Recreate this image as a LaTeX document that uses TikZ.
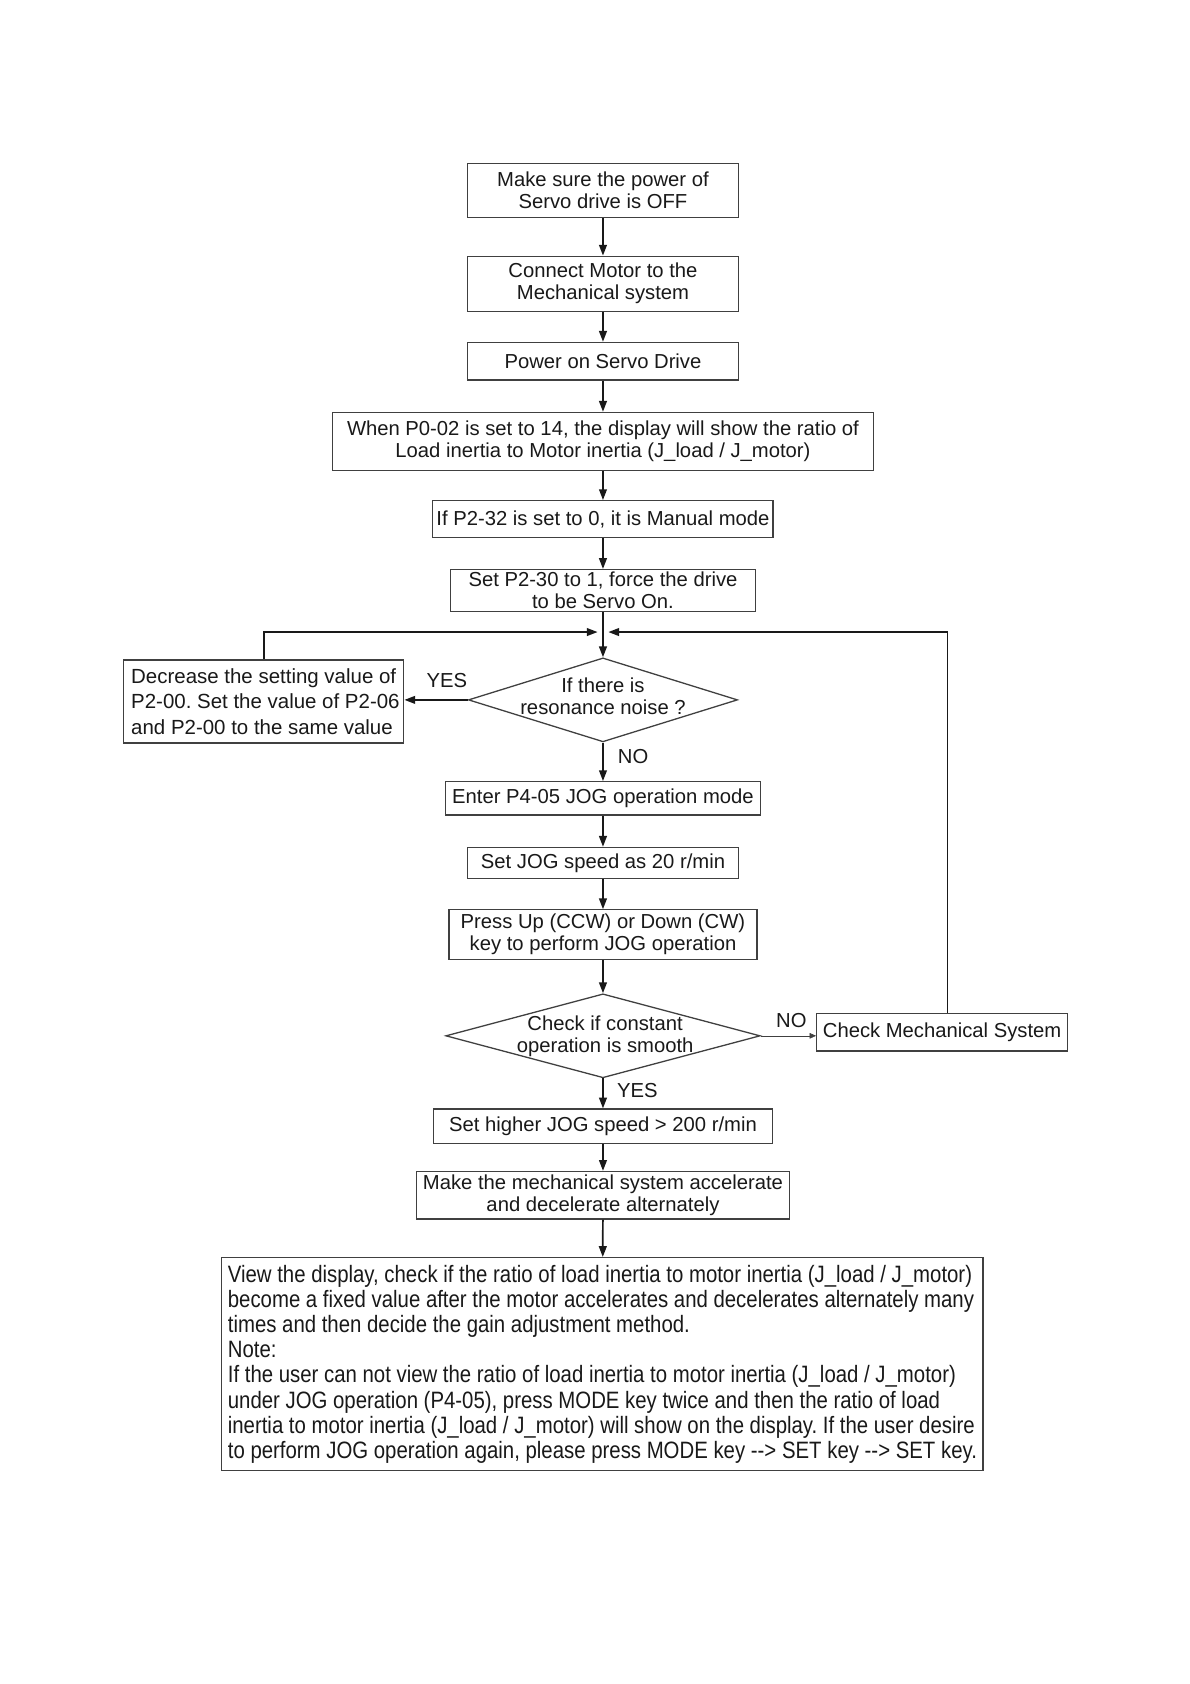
\documentclass[tikz,border=0pt]{standalone}
\usepackage{fontspec}
\setmainfont{Liberation Sans}
\newfontfamily\narrowfont[FakeStretch=0.86]{Liberation Sans}
\usetikzlibrary{shapes.geometric,arrows.meta}
\definecolor{boxc}{gray}{0.25}
\definecolor{txt}{gray}{0.1}
\frenchspacing
\begin{document}
\frenchspacing
\begin{tikzpicture}[x=0.5pt,y=-0.5pt,
  box/.style={draw=boxc, line width=0.6pt, inner sep=0pt, align=center,
    font=\fontsize{9.4}{10.2}\selectfont, text=txt},
  dia/.style={diamond, draw=boxc, line width=0.6pt, inner sep=0pt},
  dtext/.style={align=center, inner sep=0pt, font=\fontsize{9.4}{10.2}\selectfont, text=txt},
  arr/.style={-{Triangle[length=5pt,width=3.6pt]}, line width=0.8pt, draw=txt},
  thinarr/.style={-{Triangle[length=3pt,width=2.6pt]}, line width=0.3pt, draw=boxc},
  lbl/.style={font=\fontsize{9.4}{10.2}\selectfont, text=txt, inner sep=0pt}]
\useasboundingbox (0,0) rectangle (1105,1564);
\fill[white] (0,0) rectangle (1105,1564);

\node[box, minimum width=126pt, minimum height=25pt] (b1) at (560,177) {Make sure the power of\\Servo drive is OFF};
\node[box, minimum width=126pt, minimum height=25.5pt] (b2) at (560,263.5) {Connect Motor to the\\Mechanical system};
\node[box, minimum width=126pt, minimum height=17.5pt] (b3) at (560,335.5) {Power on Servo Drive};
\node[box, minimum width=251.5pt, minimum height=27pt] (b4) at (560,410) {When P0-02 is set to 14, the display will show the ratio of\\Load inertia to Motor inertia (J\_load / J\_motor)};
\node[box, minimum width=158pt, minimum height=17pt] (b5) at (560,482) {If P2-32 is set to 0, it is Manual mode};
\node[box, minimum width=141.5pt, minimum height=19.5pt] (b6) at (560,548.5) {Set P2-30 to 1, force the drive\\to be Servo On.};
\coordinate (jl) at (555,587);
\coordinate (jr) at (565,587);
\node[dia, minimum width=125pt, minimum height=39pt] (d1) at (560,650) {};
\node[dtext] (d1t) at (560,647) {If there is\\resonance noise ?};
\node[box, minimum width=130pt, minimum height=38.5pt, align=left, font=\fontsize{9.5}{11.75}\selectfont] (lb) at (245,651.5) {\hspace*{1.5pt}Decrease the setting value of\\\hspace*{1.5pt}P2-00. Set the value of P2-06\\\hspace*{1.5pt}and P2-00 to the same value};
\node[box, minimum width=146pt, minimum height=15.5pt] (b7) at (560,741.5) {Enter P4-05 JOG operation mode};
\node[box, minimum width=126pt, minimum height=14.5pt] (b8) at (560,801.5) {Set JOG speed as 20 r/min};
\node[box, minimum width=143pt, minimum height=23pt] (b9) at (560,868) {Press Up (CCW) or Down (CW)\\key to perform JOG operation};
\node[dia, minimum width=146pt, minimum height=39pt] (d2) at (560,962) {};
\node[dtext] (d2t) at (562,962) {Check if constant\\operation is smooth};
\node[box, minimum width=116.5pt, minimum height=17.5pt] (chk) at (875,958.5) {Check Mechanical System};
\node[box, minimum width=157.5pt, minimum height=16pt] (b10) at (560,1046) {Set higher JOG speed > 200 r/min};
\node[box, minimum width=173pt, minimum height=22pt] (b11) at (560,1110) {Make the mechanical system accelerate\\and decelerate alternately};
\node[box, minimum width=353.5pt, minimum height=99pt, align=left, font=\narrowfont\fontsize{11}{11.7}\selectfont] (b12) at (559.5,1267) {View the display, check if the ratio of load inertia to motor inertia (J\_load / J\_motor)\\
become a fixed value after the motor accelerates and decelerates alternately many\\
times and then decide the gain adjustment method.\\
Note:\\
If the user can not view the ratio of load inertia to motor inertia (J\_load / J\_motor)\\
under JOG operation (P4-05), press MODE key twice and then the ratio of load\\
inertia to motor inertia (J\_load / J\_motor) will show on the display. If the user desire\\
to perform JOG operation again, please press MODE key {-}{-}> SET key {-}{-}> SET key.};

\node[lbl] (yes1) at (415,632) {YES};
\node[lbl] (no1) at (588,703) {NO};
\node[lbl] (no2) at (735,948) {NO};
\node[lbl] (yes2) at (592,1013) {YES};

\draw[arr] (b1) -- (b2);
\draw[arr] (b2) -- (b3);
\draw[arr] (b3) -- (b4);
\draw[arr] (b4) -- (b5);
\draw[arr] (b5) -- (b6);
\draw[arr] (b6) -- (d1);
\draw[arr] (lb.north) |- (jl);
\draw[arr] ([xshift=2.5pt]chk.north) |- (jr);
\draw[arr] (d1.west) -- (d1.west -| lb.east);
\draw[arr] (d1) -- (b7);
\draw[arr] (b7) -- (b8);
\draw[arr] (b8) -- (b9);
\draw[arr] (b9) -- (d2);
\draw[thinarr] (d2.east) -- (d2.east -| chk.west);
\draw[arr] (d2) -- (b10);
\draw[arr] (b10) -- (b11);
\draw[arr] (b11) -- (b12);
\end{tikzpicture}
\end{document}
